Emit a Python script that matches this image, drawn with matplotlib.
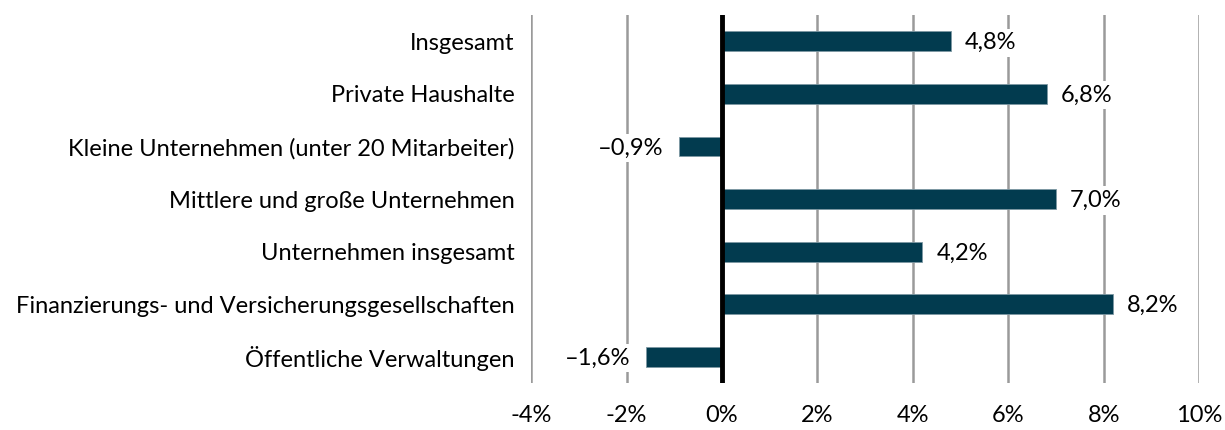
import matplotlib
matplotlib.use('Agg')
import matplotlib.pyplot as plt
import numpy as np

plt.rcParams['font.family'] = ['Lato', 'DejaVu Sans']

categories = ['Insgesamt', 'Private Haushalte', 'Kleine Unternehmen (unter 20 Mitarbeiter)',
              'Mittlere und große Unternehmen', 'Unternehmen insgesamt',
              'Finanzierungs- und Versicherungsgesellschaften', 'Öffentliche Verwaltungen']
values = [4.8, 6.8, -0.9, 7.0, 4.2, 8.2, -1.6]
xticks = [-4, -2, 0, 2, 4, 6, 8, 10]

bar_color = '#023b4f'
fs = 17

fig = plt.figure(figsize=(12.25, 4.3), dpi=100)
ax = fig.add_axes([0.4335, 0.109, 0.5455, 0.856])

y = np.arange(len(categories))
ax.barh(y, values, height=0.38, color=bar_color, edgecolor='#7d98a3', linewidth=0.6, zorder=3)

for x in xticks:
    if x != 0:
        ax.axvline(x, color='#9a9a9a', linewidth=1.8, zorder=1)
ax.axvline(0, color='black', linewidth=3.5, zorder=4)

for yi, v in zip(y, values):
    txt = f'{abs(v):.1f}%'.replace('.', ',')
    if v < 0:
        ax.annotate('–' + txt, (v, yi), xytext=(-11, -1), textcoords='offset points',
                    ha='right', va='center', fontsize=fs, zorder=5,
                    bbox=dict(boxstyle='square,pad=0.15', fc='white', ec='none'))
    else:
        ax.annotate(txt, (v, yi), xytext=(10, -1), textcoords='offset points',
                    ha='left', va='center', fontsize=fs, zorder=5,
                    bbox=dict(boxstyle='square,pad=0.15', fc='white', ec='none'))

ax.set_xlim(-4, 10)
ax.set_ylim(len(categories) - 0.5, -0.5)
ax.set_xticks(xticks)
ax.set_xticklabels([f'{x}%' for x in xticks], fontsize=fs)
ax.set_yticks(y)
ax.set_yticklabels(categories, fontsize=fs)
ax.tick_params(axis='both', length=0, pad=12)
ax.tick_params(axis='x', pad=16)
for s in ax.spines.values():
    s.set_visible(False)

fig.savefig('out.png', dpi=100)
